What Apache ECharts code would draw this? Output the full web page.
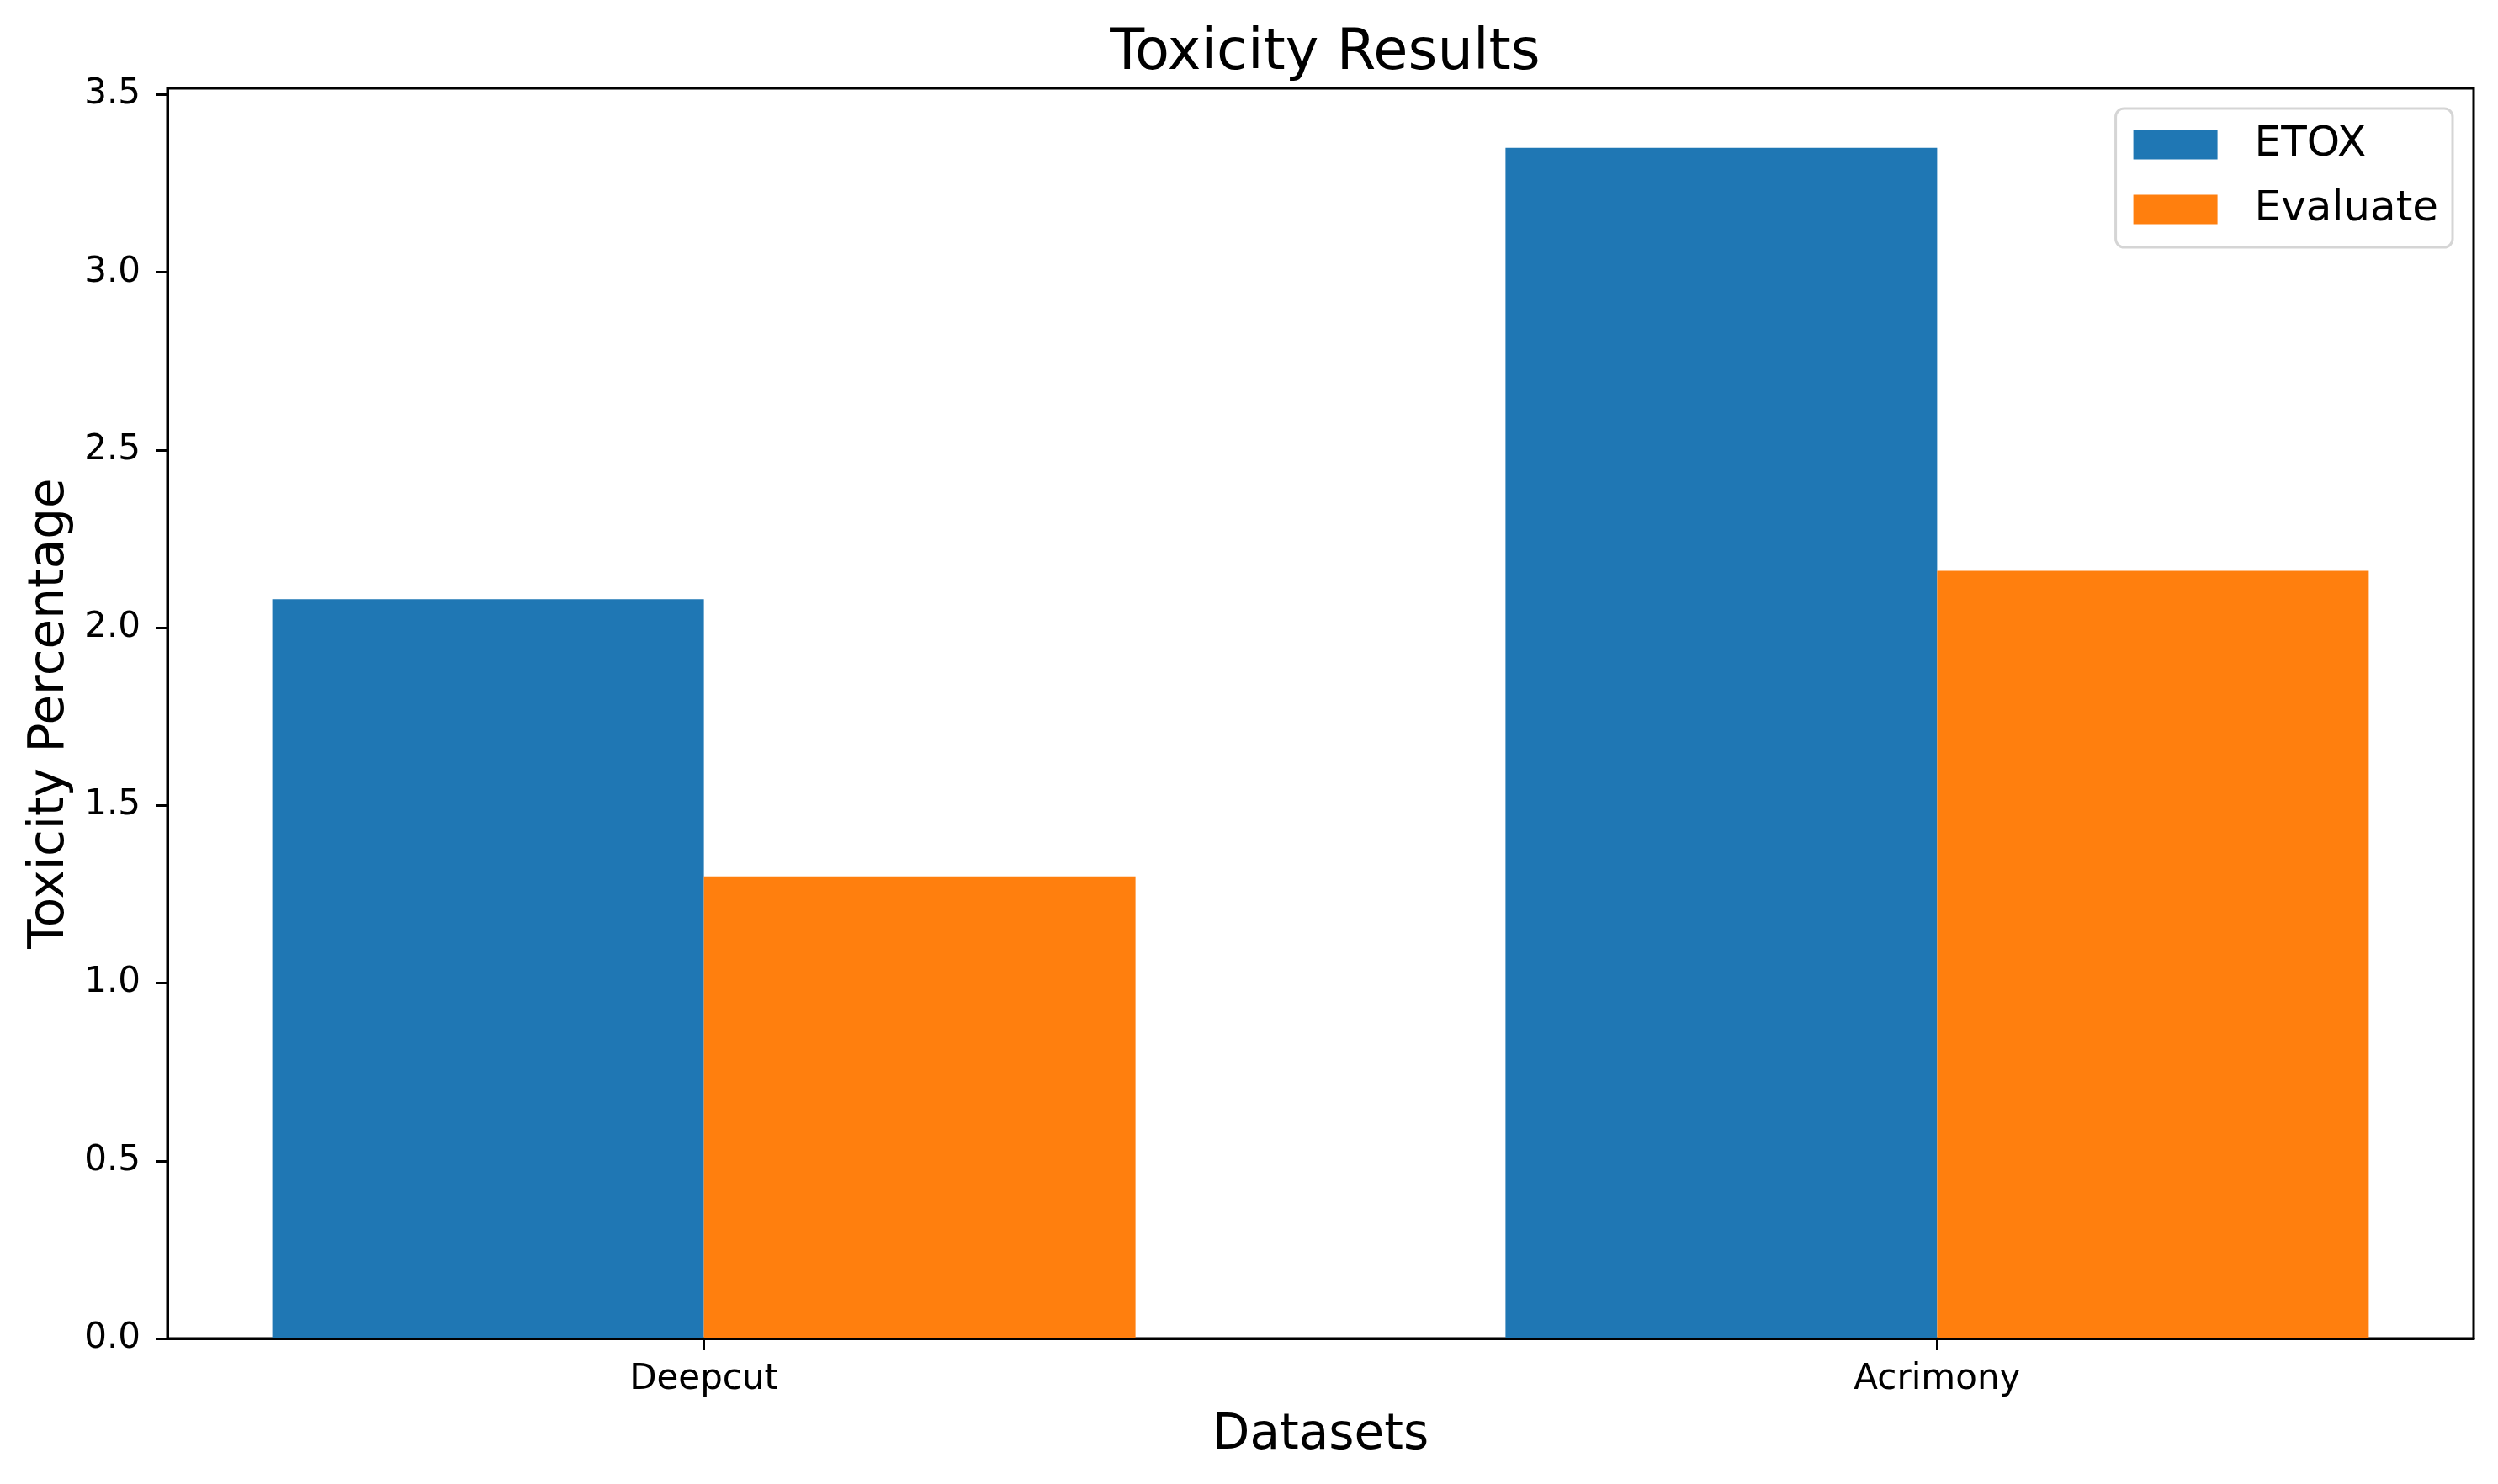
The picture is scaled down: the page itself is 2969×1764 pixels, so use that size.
<!DOCTYPE html>
<html>
<head>
<meta charset="utf-8">
<script src="https://cdn.jsdelivr.net/npm/echarts@6/dist/echarts.min.js"></script>
<style>
  html, body { margin: 0; padding: 0; background: #fff; }
  #chart { width: 2969px; height: 1764px; }
</style>
</head>
<body>
<div id="chart"></div>
<script>
  // data
  const categories = ['Deepcut', 'Acrimony']
  const etoxValues = [2.08, 3.35]
  const evaluateValues = [1.30, 2.16]
  const yTicks = [0, 0.5, 1.0, 1.5, 2.0, 2.5, 3.0, 3.5]

  const font = 'DejaVu Sans'
  const catIdx = categories.map((c, i) => i)

  const chart = echarts.init(document.getElementById('chart'))
  const option = {
    backgroundColor: '#fff',
    animation: false,
    title: {
      text: 'Toxicity Results',
      left: 1570,
      textAlign: 'center',
      top: 26,
      textStyle: { fontFamily: font, fontSize: 67, fontWeight: 'normal', color: '#000' }
    },
    legend: {
      orient: 'vertical',
      right: 54,
      top: 129,
      icon: 'rect',
      itemWidth: 100,
      itemHeight: 35,
      itemGap: 27,
      padding: [18, 17, 20, 21],
      borderColor: '#d5d5d5',
      borderWidth: 3,
      borderRadius: 10,
      textStyle: { fontFamily: font, fontSize: 50, color: '#000', padding: [0, 0, 0, 39] },
      data: ['ETOX', 'Evaluate']
    },
    grid: {
      left: 199,
      right: 29,
      top: 105,
      bottom: 173,
      show: true,
      borderColor: '#000',
      borderWidth: 3,
      containLabel: false
    },
    xAxis: {
      type: 'value',
      min: -0.435,
      max: 1.435,
      name: 'Datasets',
      nameLocation: 'middle',
      nameGap: 87,
      nameTextStyle: { fontFamily: font, fontSize: 58, color: '#000' },
      axisLine: { show: true, onZero: false, lineStyle: { color: '#000', width: 3 } },
      axisTick: { show: true, length: 14, lineStyle: { color: '#000', width: 3 }, customValues: catIdx },
      axisLabel: {
        customValues: catIdx,
        margin: 28,
        fontFamily: font,
        fontSize: 42,
        color: '#000',
        formatter: v => categories[Math.round(v)]
      },
      splitLine: { show: false }
    },
    yAxis: {
      type: 'value',
      min: 0,
      max: 3.5175,
      name: 'Toxicity Percentage',
      nameLocation: 'middle',
      nameGap: 110,
      nameTextStyle: { fontFamily: font, fontSize: 58, color: '#000' },
      axisLine: { show: true, onZero: false, lineStyle: { color: '#000', width: 3 } },
      axisTick: { show: true, length: 14, lineStyle: { color: '#000', width: 3 }, customValues: yTicks },
      axisLabel: {
        customValues: yTicks,
        margin: 32,
        fontFamily: font,
        fontSize: 42,
        color: '#000',
        formatter: v => v.toFixed(1)
      },
      splitLine: { show: false }
    },
    series: [
      {
        name: 'ETOX',
        type: 'bar',
        barWidth: 513,
        barGap: '0%',
        itemStyle: { color: '#1f77b4' },
        data: catIdx.map(i => [i, etoxValues[i]])
      },
      {
        name: 'Evaluate',
        type: 'bar',
        barWidth: 513,
        barGap: '0%',
        itemStyle: { color: '#ff7f0e' },
        data: catIdx.map(i => [i, evaluateValues[i]])
      }
    ]
  }
  chart.setOption(option)
</script>
</body>
</html>
